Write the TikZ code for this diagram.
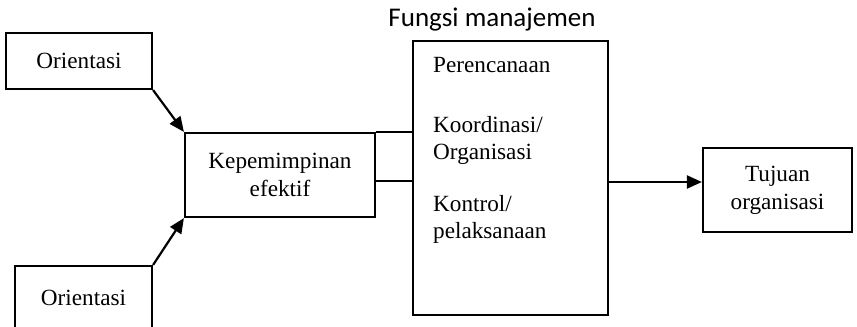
\documentclass[tikz,border=0pt]{standalone}
\usepackage{fontspec}
\setmainfont{Liberation Serif}
\newfontfamily\titlefont{Carlito}
\usetikzlibrary{arrows.meta,calc}
\tikzset{
  box/.style={draw, line width=2.2bp, inner sep=0pt, align=center, font=\fontsize{23.2bp}{28bp}\selectfont},
  lbl/.style={inner sep=0pt, anchor=base west, font=\fontsize{23.2bp}{28bp}\selectfont},
  conn/.style={line width=2.2bp},
  arr/.style={line width=2.2bp, -{Triangle[length=15bp,width=13bp]}}
}
\begin{document}
\begin{tikzpicture}[x=1bp,y=-1bp]
\useasboundingbox (0,0) rectangle (857,326);
\clip (0,0) rectangle (857,326);
\node[box, minimum width=146bp, minimum height=56bp] (o1) at (79,61) {Orientasi};
\node[box, minimum width=137bp, minimum height=70bp] (o2) at (83.5,301) {\raisebox{7bp}{Orientasi}};
\node[box, minimum width=190bp, minimum height=84bp] (kep) at (280,175) {Kepemimpinan\\efektif};
\node[box, minimum width=195bp, minimum height=274bp] (main) at (510.5,178) {};
\node[box, minimum width=149bp, minimum height=84bp] (tuj) at (777.5,190) {Tujuan\\organisasi};
\node[inner sep=0pt, font=\titlefont\fontsize{27bp}{30bp}\selectfont] (title) at (492,20) {Fungsi manajemen};
\node[lbl] (l1) at (433,72) {Perencanaan};
\node[lbl] (l2) at (433,132) {Koordinasi/};
\node[lbl] (l3) at (433,159) {Organisasi};
\node[lbl] (l4) at (433,211) {Kontrol/};
\node[lbl] (l5) at (433,238) {pelaksanaan};
\draw[arr] (o1.south east) -- (kep.north west);
\draw[arr] (o2.north east) -- (kep.south west);
\draw[conn] (kep.north east) -- (kep.north east -| main.west);
\draw[conn] ([yshift=-49bp]kep.north east) -- ([yshift=-49bp]kep.north east -| main.west);
\draw[arr] ([yshift=-4bp]main.east) -- ([yshift=-4bp]main.east -| tuj.west);
\end{tikzpicture}
\end{document}
